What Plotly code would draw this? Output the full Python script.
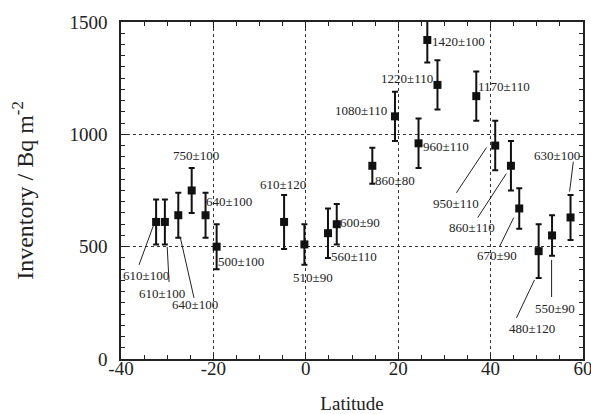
import plotly.graph_objects as go

# ---- data ----
latitude = [-32.4, -30.5, -27.6, -24.7, -21.7, -19.3, -4.7, -0.3, 4.8, 6.7, 14.4,
            19.3, 24.4, 26.3, 28.5, 36.9, 41.0, 44.4, 46.2, 50.4, 53.3, 57.3]
inventory = [610, 610, 640, 750, 640, 500, 610, 510, 560, 600, 860,
             1080, 960, 1420, 1220, 1170, 950, 860, 670, 480, 550, 630]
uncertainty = [100, 100, 100, 100, 100, 100, 120, 90, 110, 90, 80,
               110, 110, 100, 110, 110, 110, 110, 90, 120, 90, 100]

x_tickvals = [-40, -20, 0, 20, 40, 60]
x_ticktext = ["-40", "-20", "0", "20", "40", "60"]
y_tickvals = [0, 500, 1000, 1500]
y_ticktext = ["0", "500", "1000", "1500"]

# label placement (data coordinates) for each point
label_x = [-34.6, -31.1, -23.9, -23.7, -16.6, -14.0, -4.9, 1.5, 10.5, 11.8, 19.4,
           12.0, 30.4, 33.0, 21.8, 42.8, 32.6, 35.9, 41.3, 48.9, 53.9, 54.3]
label_y = [370, 290, 241, 905, 700, 432, 776, 361, 455, 606, 794,
           1106, 945, 1413, 1248, 1213, 691, 584, 459, 134, 227, 905]

# leader lines: (x0, y0, x1, y1) in data coordinates
leaders = [
    (-36.1, 419, -33.0, 593),
    (-29.6, 343, -30.0, 499),
    (-24.2, 272, -27.2, 544),
    (32.6, 740, 39.1, 941),
    (37.2, 629, 43.4, 825),
    (41.9, 499, 45.0, 629),
    (45.6, 183, 49.5, 352),
    (53.2, 276, 53.2, 441),
    (57.9, 878, 57.1, 745),
]

FONT = "Liberation Serif"

fig = go.Figure()
fig.add_trace(go.Scatter(
    x=latitude, y=inventory, mode="markers",
    marker=dict(symbol="square", size=8, color="#111"),
    error_y=dict(type="data", array=uncertainty, visible=True,
                 color="#111", thickness=2, width=3),
    showlegend=False,
))

for lx, ly, v, e in zip(label_x, label_y, inventory, uncertainty):
    fig.add_annotation(x=lx, y=ly, xref="x", yref="y", text=f"{v}±{e}",
                       showarrow=False, xanchor="center", yanchor="middle",
                       font=dict(family=FONT, size=13, color="#222"))

for x0, y0, x1, y1 in leaders:
    fig.add_shape(type="line", xref="x", yref="y", x0=x0, y0=y0, x1=x1, y1=y1,
                  line=dict(color="#222", width=1))

axis_common = dict(
    showline=True, linecolor="#222", linewidth=1.5, mirror="ticks",
    ticks="inside", ticklen=6, tickwidth=1, tickcolor="#222",
    showgrid=True, gridcolor="#333", griddash="dot", gridwidth=1,
    zeroline=False, automargin=False, ticklabeloverflow="allow",
    tickfont=dict(family=FONT, size=19, color="#222"),
)

fig.update_xaxes(
    range=[-40, 60], tickvals=x_tickvals, ticktext=x_ticktext, ticklabelstandoff=-9,
    minor=dict(dtick=5, tick0=0, ticks="inside", ticklen=4, tickcolor="#222", showgrid=False),
    title=dict(text="Latitude", font=dict(family=FONT, size=19, color="#222"), standoff=23),
    **axis_common,
)
fig.update_yaxes(
    range=[0, 1500], tickvals=y_tickvals, ticktext=y_ticktext, ticklabelstandoff=8,
    minor=dict(dtick=50, tick0=0, ticks="inside", ticklen=4, tickcolor="#222", showgrid=False),
    title=dict(text="Inventory / Bq m<sup>-2</sup>", font=dict(family=FONT, size=24, color="#222"), standoff=29),
    **axis_common,
)

fig.update_layout(
    width=591, height=414,
    margin=dict(l=121, r=8, t=22, b=55),
    paper_bgcolor="white", plot_bgcolor="white",
)

fig.write_html("out.html", config={"displayModeBar": False},
               post_script="document.body.style.margin='0';")
